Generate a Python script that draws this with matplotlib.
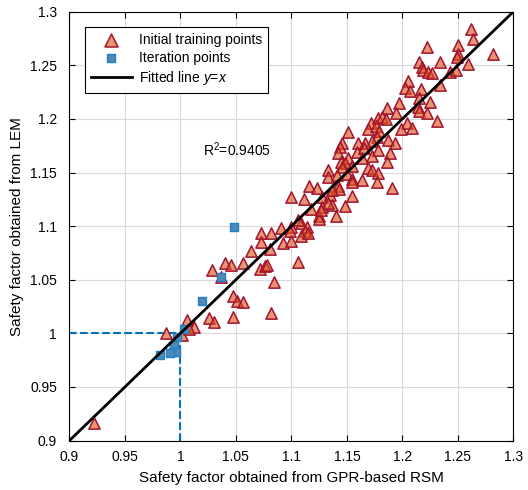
import numpy as np
import matplotlib
matplotlib.use("Agg")
import matplotlib.pyplot as plt

plt.rcParams["font.family"] = ["Liberation Sans", "DejaVu Sans"]
plt.rcParams["mathtext.fontset"] = "custom"
plt.rcParams["mathtext.rm"] = "Liberation Sans"
plt.rcParams["mathtext.it"] = "Liberation Sans:italic"

# initial training points (GPR-based RSM, LEM)
train_gpr = [1.262, 1.264, 1.222, 1.250, 1.250, 1.249, 1.282, 1.234, 1.215, 1.218,
             1.219, 1.223, 1.227, 1.259, 1.243, 1.248, 1.234, 1.205, 1.202, 1.207,
             1.217, 1.215, 1.225, 1.197, 1.186, 1.214, 1.194, 1.215, 1.222, 1.231,
             1.204, 1.199, 1.209, 1.172, 1.178, 1.182, 1.185, 1.169, 1.176, 1.179,
             1.151, 1.177, 1.173, 1.160, 1.166, 1.187, 1.193, 1.146, 1.144, 1.159,
             1.165, 1.173, 1.178, 1.189, 1.142, 1.151, 1.164, 1.186, 1.145, 1.148,
             1.146, 1.155, 1.133, 1.169, 1.173, 1.178, 1.133, 1.141, 1.150, 1.155,
             1.164, 1.177, 1.191, 1.116, 1.123, 1.142, 1.143, 1.100, 1.111, 1.128,
             1.135, 1.155, 1.128, 1.137, 1.148, 1.155, 1.137, 1.118, 1.125, 1.125,
             1.140, 1.133, 1.109, 1.106, 1.114, 1.112, 1.109, 1.115, 1.100, 1.091,
             1.082, 1.073, 1.073, 1.092, 1.100, 1.064, 1.081, 1.040, 1.046, 1.056,
             1.028, 1.072, 1.076, 1.078, 1.106, 1.084, 1.037, 1.047, 1.051, 1.056,
             1.082, 1.047, 1.026, 1.030, 1.006, 1.012, 0.987, 1.001, 1.008, 0.922,
             1.127, 1.099]
train_lem = [1.284, 1.275, 1.267, 1.269, 1.261, 1.258, 1.261, 1.253, 1.253, 1.248,
             1.246, 1.244, 1.243, 1.251, 1.244, 1.246, 1.232, 1.235, 1.229, 1.226,
             1.228, 1.220, 1.216, 1.215, 1.210, 1.211, 1.206, 1.207, 1.206, 1.198,
             1.196, 1.191, 1.192, 1.196, 1.201, 1.202, 1.200, 1.191, 1.193, 1.189,
             1.188, 1.183, 1.179, 1.178, 1.178, 1.180, 1.178, 1.178, 1.174, 1.169,
             1.173, 1.165, 1.171, 1.168, 1.168, 1.164, 1.164, 1.160, 1.160, 1.159,
             1.155, 1.156, 1.152, 1.154, 1.152, 1.150, 1.146, 1.148, 1.149, 1.144,
             1.143, 1.141, 1.136, 1.137, 1.136, 1.137, 1.135, 1.127, 1.125, 1.127,
             1.129, 1.128, 1.118, 1.120, 1.119, 1.141, 1.134, 1.116, 1.109, 1.107,
             1.109, 1.122, 1.103, 1.106, 1.099, 1.095, 1.091, 1.094, 1.099, 1.098,
             1.094, 1.094, 1.085, 1.084, 1.086, 1.077, 1.079, 1.066, 1.064, 1.066,
             1.059, 1.060, 1.063, 1.064, 1.067, 1.048, 1.053, 1.035, 1.030, 1.029,
             1.019, 1.015, 1.014, 1.011, 1.012, 1.006, 1.000, 0.998, 1.004, 0.916,
             1.115, 1.095]

# iteration points
iter_gpr = [1.048, 1.037, 1.019, 1.003, 0.997, 0.994, 0.993, 0.996, 0.991, 0.982]
iter_lem = [1.099, 1.053, 1.030, 1.004, 0.997, 0.989, 0.983, 0.983, 0.982, 0.980]

design_fs = 1.0
r2_text = "R$^2$=0.9405"

fig = plt.figure(figsize=(5.28, 4.9), dpi=100)
ax = fig.add_axes([0.1316, 0.101, 0.8406, 0.875])

ax.plot([design_fs, design_fs], [0.9, design_fs], "--", color="#0072BD", lw=1.5, zorder=2)
ax.plot([0.9, design_fs], [design_fs, design_fs], "--", color="#0072BD", lw=1.5, zorder=2)

ax.scatter(train_gpr, train_lem, marker="^", s=66, facecolor=(0.86, 0.33, 0.10, 0.62),
           edgecolor="#A2142F", linewidth=1.1, label="Initial training points", zorder=3)
ax.scatter(iter_gpr, iter_lem, marker="s", s=30, facecolor="#4F89B5",
           edgecolor="#1F80C8", linewidth=1.0, label="Iteration points", zorder=4)
ax.plot([0.9, 1.3], [0.9, 1.3], "k-", lw=2, label="Fitted line $y$=$x$", zorder=5)

ax.text(1.02, 1.171, r2_text, fontsize=10, va="center")

ax.set_xlim(0.9, 1.3)
ax.set_ylim(0.9, 1.3)
ticks = np.arange(0.9, 1.3001, 0.05)
ax.set_xticks(ticks)
ax.set_yticks(ticks)
ax.set_xticklabels(["%g" % round(t, 2) for t in ticks])
ax.set_yticklabels(["%g" % round(t, 2) for t in ticks])
ax.tick_params(direction="in", length=4, top=True, right=True, labelsize=10, width=0.8)
ax.tick_params(axis="x", pad=7)
ax.tick_params(axis="y", pad=9)
ax.grid(True, color="#dadada", lw=0.8)
ax.set_axisbelow(True)
for sp in ax.spines.values():
    sp.set_linewidth(0.8)

ax.set_xlabel("Safety factor obtained from GPR-based RSM", fontsize=11, labelpad=5)
ax.set_ylabel("Safety factor obtained from LEM", fontsize=11, labelpad=4)

leg = ax.legend(loc="upper left", bbox_to_anchor=(0.035, 0.964), borderaxespad=0,
                fontsize=10, fancybox=False, framealpha=1, edgecolor="black",
                handlelength=3, handletextpad=0.5, borderpad=0.4, labelspacing=0.3,
                markerscale=1.15)
leg.get_frame().set_linewidth(0.8)

fig.savefig("out.png", dpi=100)
